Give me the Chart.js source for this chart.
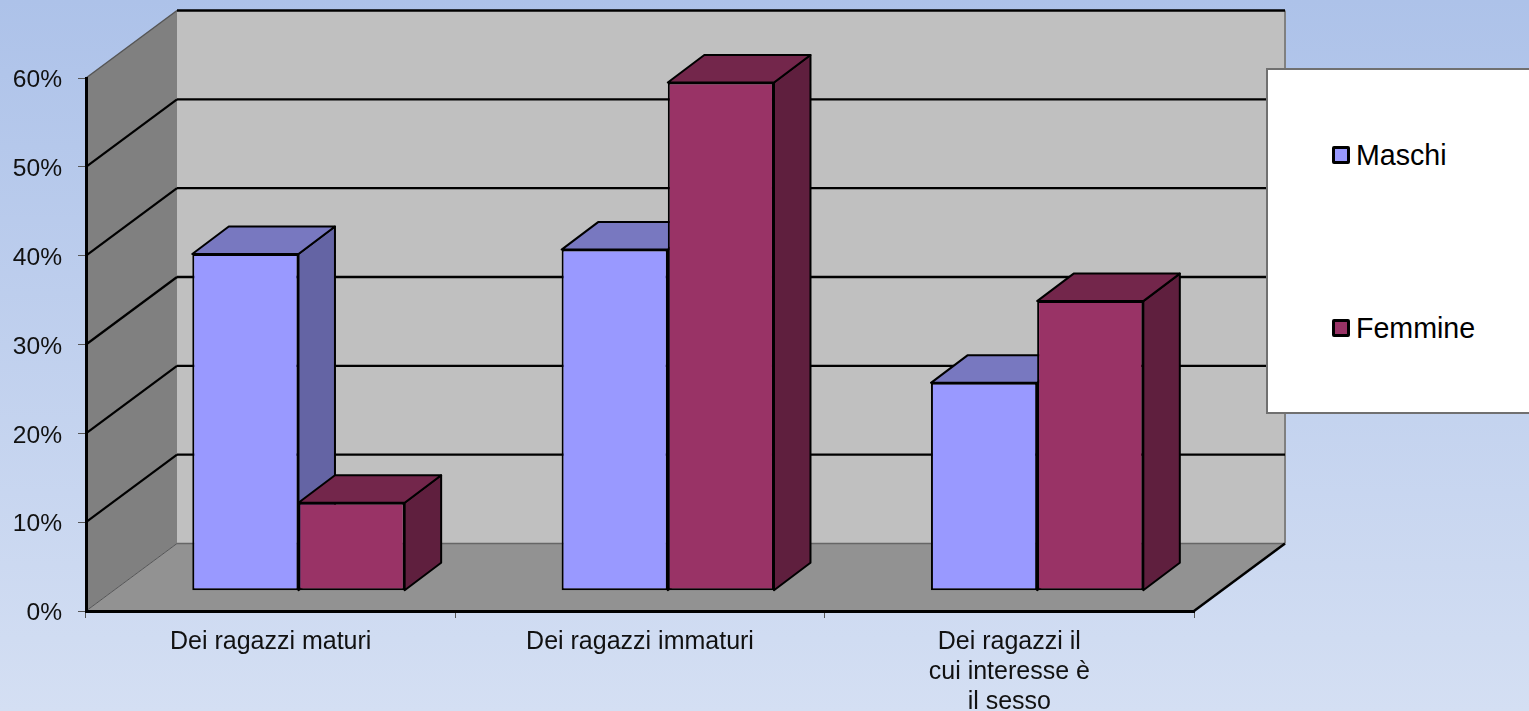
<!DOCTYPE html>
<html lang="it">
<head>
<meta charset="UTF-8">
<title>Grafico</title>
<style>
    html, body {
        margin: 0;
        padding: 0;
        width: 1529px;
        height: 711px;
        overflow: hidden;
        background: linear-gradient(180deg, #adc2e9, #d4dff3);
        font-family: 'Liberation Sans', Arial, sans-serif;
    }
    #wrap { position: relative; width: 1529px; height: 711px; }
    canvas { position: absolute; left: 0; top: 0; }
    #legend {
        position: absolute;
        left: 1266px;
        top: 68px;
        width: 270px;
        height: 346px;
        background: #fff;
        border: 2px solid #707070;
        box-sizing: border-box;
    }
    .item {
        position: absolute;
        left: 64px;
        display: flex;
        align-items: center;
        font-size: 28.6px;
        line-height: 34px;
        color: #000;
    }
    .swatch {
        width: 18px;
        height: 18px;
        border: 3px solid #000;
        border-radius: 2px;
        box-sizing: border-box;
        margin-right: 6px;
    }
</style>
<script src="https://cdn.jsdelivr.net/npm/chart.js"></script>
</head>
<body>
<div id="wrap">
    <canvas id="chart" width="1529" height="711"></canvas>
    <div id="legend"></div>
</div>
<script>
    const categories = ['Dei ragazzi maturi', 'Dei ragazzi immaturi', ['Dei ragazzi il', 'cui interesse è', 'il sesso']];
    const maschi = [37.9, 38.4, 23.4];
    const femmine = [9.9, 57.2, 32.6];
    const yTicks = [0, 10, 20, 30, 40, 50, 60];

    // 3D look: how far the back wall and the bar depth go
    const wallDx = 91, wallDy = -67.5;
    const barShiftX = 27.8, barShiftY = -20.3;
    const barDx = 36.5, barDy = -27.5;

    const faces = [
        { top: '#7878c0', side: '#6464a4' },
        { top: '#73264b', side: '#5f1f3e' }
    ];

    function poly(ctx, pts, fill, stroke, width) {
        ctx.beginPath();
        pts.forEach((p, i) => i ? ctx.lineTo(p[0], p[1]) : ctx.moveTo(p[0], p[1]));
        ctx.closePath();
        if (fill) { ctx.fillStyle = fill; ctx.fill(); }
        if (stroke) { ctx.strokeStyle = stroke; ctx.lineWidth = width; ctx.stroke(); }
    }

    function line(ctx, x1, y1, x2, y2, color, width) {
        ctx.beginPath();
        ctx.moveTo(x1, y1);
        ctx.lineTo(x2, y2);
        ctx.strokeStyle = color;
        ctx.lineWidth = width;
        ctx.stroke();
    }

    // back wall, side wall, floor and their grid lines
    const walls = {
        id: 'walls',
        afterUpdate(chart) {
            // tick labels sit a bit under their tick in the original
            chart.scales.y.getLabelItems(chart.chartArea).forEach(it => { it.options.translation[1] += 2.5; });
        },
        beforeDraw(chart) {
            const ctx = chart.ctx, a = chart.chartArea, y = chart.scales.y;
            const l = a.left, r = a.right, t = y.getPixelForValue(60), b = y.getPixelForValue(0);
            ctx.save();
            poly(ctx, [[l + wallDx, t + wallDy], [r + wallDx, t + wallDy], [r + wallDx, b + wallDy], [l + wallDx, b + wallDy]], '#c0c0c0');
            poly(ctx, [[l, t], [l + wallDx, t + wallDy], [l + wallDx, b + wallDy], [l, b]], '#808080');
            poly(ctx, [[l, b], [l + wallDx, b + wallDy], [r + wallDx, b + wallDy], [r, b]], '#929292');

            line(ctx, l, t, l + wallDx, t + wallDy, '#555', 1.5);
            line(ctx, l, b, l + wallDx, b + wallDy, '#555', 1);
            line(ctx, l + wallDx, b + wallDy, r + wallDx, b + wallDy, '#666', 1.5);
            line(ctx, r + wallDx, t + wallDy, r + wallDx, b + wallDy, '#808080', 2);
            line(ctx, r, b, r + wallDx, b + wallDy, '#000', 2.5);

            yTicks.forEach(v => {
                if (v === 0) return;
                const py = y.getPixelForValue(v);
                line(ctx, l + wallDx, py + wallDy, r + wallDx, py + wallDy, '#000', 2.4);
                if (v < 60) line(ctx, l, py, l + wallDx, py + wallDy, '#000', 2.2);
            });
            ctx.restore();
        }
    };

    // side and top of each bar, the fronts are the real Chart.js bars
    const bars3d = {
        id: 'bars3d',
        beforeDatasetsDraw(chart) {
            const ctx = chart.ctx;
            ctx.save();
            ctx.translate(barShiftX, barShiftY);
            ctx.lineJoin = 'round';
            chart.data.datasets.forEach((ds, i) => {
                chart.getDatasetMeta(i).data.forEach(bar => {
                    const x1 = bar.x - bar.width / 2, x2 = bar.x + bar.width / 2;
                    poly(ctx, [[x2, bar.y], [x2 + barDx, bar.y + barDy], [x2 + barDx, bar.base + barDy], [x2, bar.base]], faces[i].side, '#000', 2);
                    poly(ctx, [[x1, bar.y], [x1 + barDx, bar.y + barDy], [x2 + barDx, bar.y + barDy], [x2, bar.y]], faces[i].top, '#000', 2);
                });
            });
        },
        afterDatasetsDraw(chart) {
            chart.ctx.restore();
        }
    };

    const chart = new Chart(document.getElementById('chart'), {
        type: 'bar',
        data: {
            labels: categories,
            datasets: [
                { label: 'Maschi', data: maschi, backgroundColor: '#9999ff' },
                { label: 'Femmine', data: femmine, backgroundColor: '#993366' }
            ]
        },
        options: {
            responsive: false,
            animation: false,
            layout: { padding: { left: 0, top: 78, right: 335, bottom: 0 } },
            datasets: {
                bar: {
                    categoryPercentage: 0.575,
                    barPercentage: 1,
                    borderColor: '#000',
                    borderWidth: 2,
                    borderSkipped: false
                }
            },
            plugins: {
                legend: { display: false },
                tooltip: { enabled: false }
            },
            scales: {
                x: {
                    afterFit(scale) { scale.height = 100; },
                    grid: { drawOnChartArea: false, tickLength: 7, tickColor: '#555', tickWidth: 1 },
                    border: { color: '#000', width: 3 },
                    ticks: {
                        color: '#111',
                        padding: 9,
                        maxRotation: 0,
                        autoSkip: false,
                        font: { family: "'Liberation Sans'", size: 25 }
                    }
                },
                y: {
                    min: 0,
                    max: 60,
                    afterFit(scale) { scale.width = 86; },
                    afterBuildTicks(scale) { scale.ticks = yTicks.map(v => ({ value: v })); },
                    grid: { drawOnChartArea: false, tickLength: 8, tickColor: '#555', tickWidth: 1 },
                    border: { color: '#000', width: 3 },
                    ticks: {
                        color: '#111',
                        padding: 16,
                        callback: v => v + '%',
                        font: { family: "'Liberation Sans'", size: 24.6 }
                    }
                }
            }
        },
        plugins: [walls, bars3d]
    });

    // legend box: the two entries sit far apart, so it is built by hand
    const legendTops = [68, 241];
    chart.data.datasets.forEach((ds, i) => {
        const item = document.createElement('div');
        item.className = 'item';
        item.style.top = legendTops[i] + 'px';
        item.innerHTML = '<span class="swatch" style="background:' + ds.backgroundColor + '"></span>' + ds.label;
        document.getElementById('legend').appendChild(item);
    });
</script>
</body>
</html>
